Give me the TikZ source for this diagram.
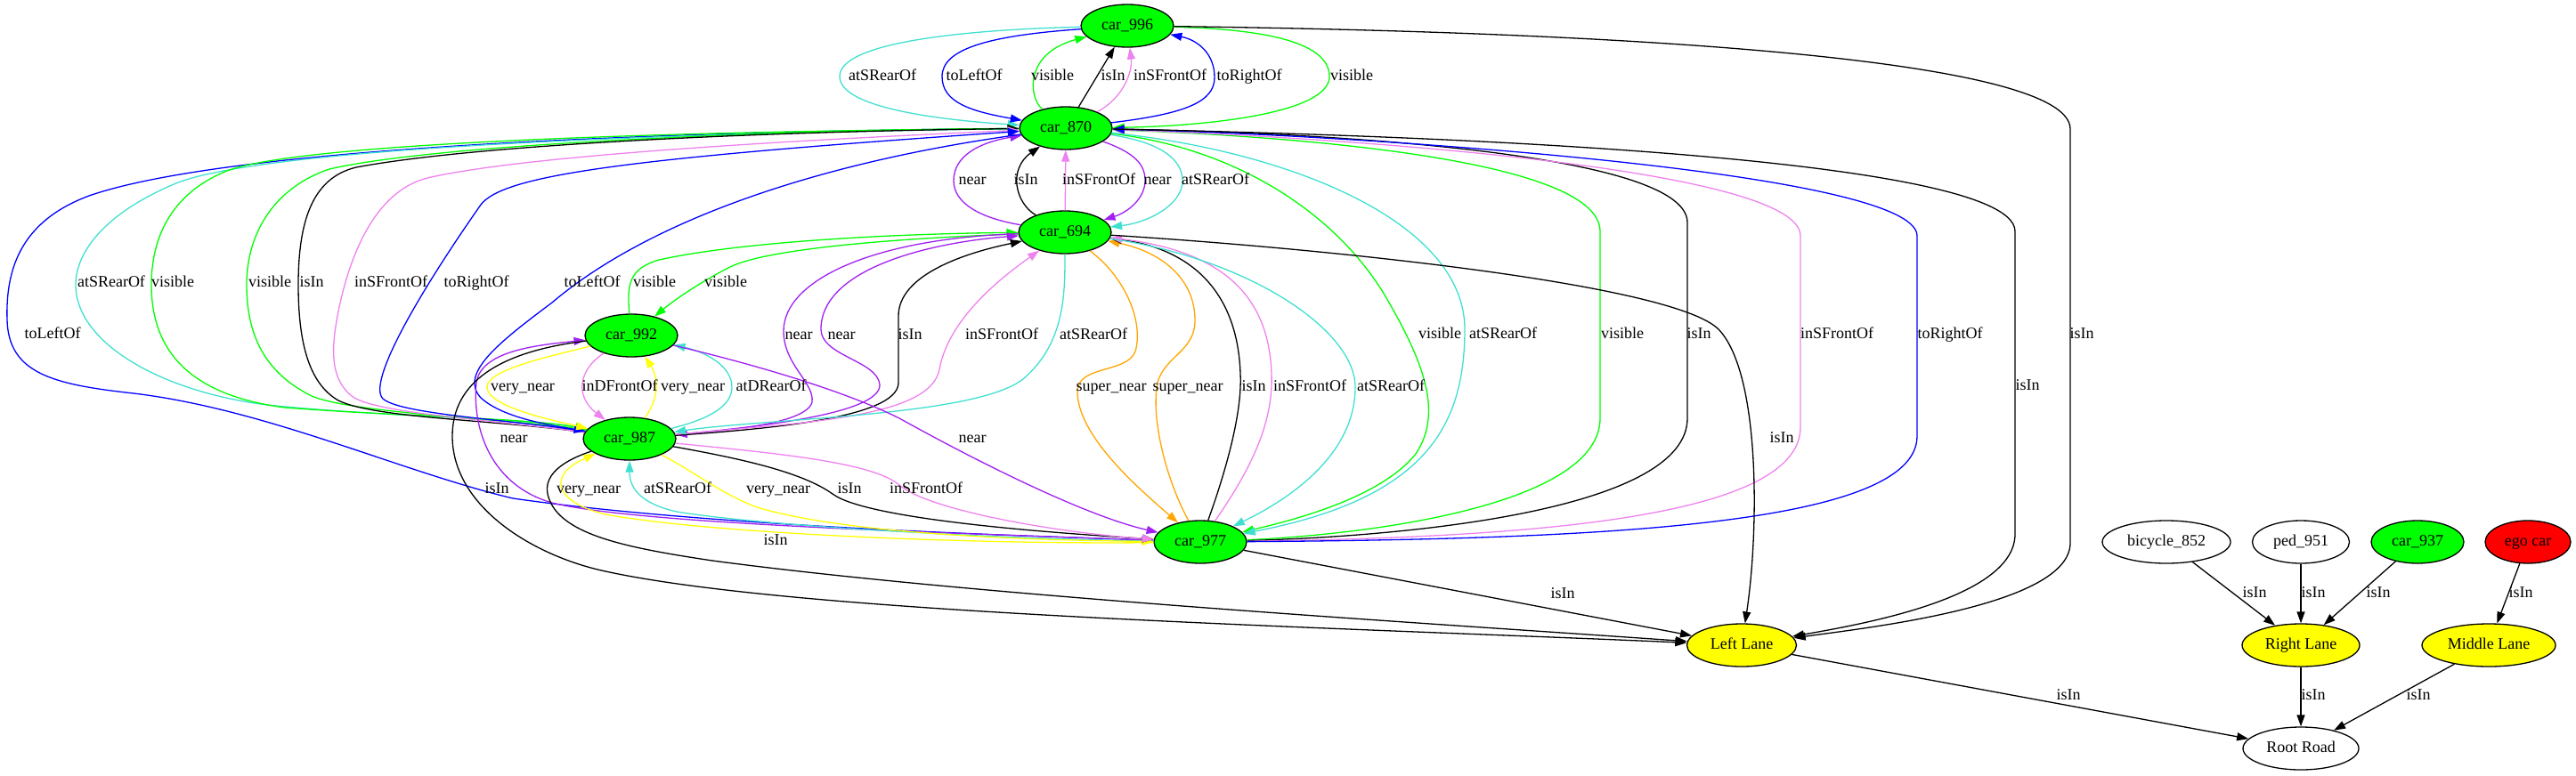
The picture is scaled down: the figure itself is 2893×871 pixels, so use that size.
\documentclass[tikz,border=0pt]{standalone}
\usepackage{fontspec}
\setmainfont{Liberation Serif}
\usetikzlibrary{shapes.geometric,arrows.meta}
\definecolor{gvgreen}{HTML}{00FF00}
\definecolor{gvred}{HTML}{FF0000}
\definecolor{gvyellow}{HTML}{FFFF00}
\definecolor{gvblue}{HTML}{0000FF}
\definecolor{gvpurple}{HTML}{A020F0}
\definecolor{gvviolet}{HTML}{EE82EE}
\definecolor{gvturq}{HTML}{40E0D0}
\definecolor{gvorange}{HTML}{FFA500}
\tikzstyle{obj} = [ellipse, draw=black, line width=1.3pt, inner sep=0pt,
  minimum height=48pt, minimum width=104pt, text height=12pt, text depth=3pt]
\tikzstyle{car} = [obj, fill=gvgreen]
\tikzstyle{lane} = [obj, fill=gvyellow]
\tikzstyle{lbl} = [inner sep=0pt, text height=12pt, text depth=3pt]
\tikzstyle{rel} = [line width=1.3pt, -{Triangle[length=13pt,width=9pt]}]
\tikzstyle{eisin} = [rel, draw=black]
\tikzstyle{evis} = [rel, draw=gvgreen]
\tikzstyle{erear} = [rel, draw=gvturq]
\tikzstyle{eside} = [rel, draw=gvblue]
\tikzstyle{efront} = [rel, draw=gvviolet]
\tikzstyle{enear} = [rel, draw=gvpurple]
\tikzstyle{esnear} = [rel, draw=gvorange]
\tikzstyle{evnear} = [rel, draw=gvyellow]

\begin{document}
\begin{tikzpicture}[x=1pt, y=-1pt, font=\fontsize{18}{20}\selectfont]
  \useasboundingbox (0,0) rectangle (2893,871);

  % Cars
  \node[car] (c996) at (1266,29) {car\_996};
  \node[car] (c870) at (1197,144) {car\_870};
  \node[car] (c694) at (1196,261) {car\_694};
  \node[car] (c992) at (709,377) {car\_992};
  \node[car] (c987) at (707,493) {car\_987};
  \node[car] (c977) at (1348,609) {car\_977};

  % Other actors and lanes
  \node[obj, minimum width=144pt] (b852) at (2433,609) {bicycle\_852};
  \node[obj, minimum width=109pt] (p951) at (2584,609) {ped\_951};
  \node[car] (c937) at (2715,609) {car\_937};
  \node[obj, minimum width=96pt, fill=gvred] (ego) at (2839,609) {ego car};
  \node[lane, minimum width=123pt] (left) at (1956,725) {Left Lane};
  \node[lane, minimum width=132pt] (right) at (2584,725) {Right Lane};
  \node[lane, minimum width=150pt] (middle) at (2795,725) {Middle Lane};
  \node[obj, minimum width=130pt] (road) at (2584,841) {Root Road};

  % car_996 and car_870
  \draw[erear] (c996) .. controls (1100,33) and (943,45) .. (943,86) .. controls (943,122) and (1060,135) .. (c870);
  \draw[eside] (c996) .. controls (1110,40) and (1058,55) .. (1058,86) .. controls (1058,115) and (1090,125) .. (c870);
  \draw[evis] (c870) .. controls (1155,110) and (1150,60) .. (c996);
  \draw[eisin] (c870) -- (c996);
  \draw[efront] (c870) .. controls (1262,110) and (1272,80) .. (c996);
  \draw[eside] (c870) .. controls (1330,128) and (1364,115) .. (1364,87) .. controls (1364,60) and (1345,45) .. (c996);
  \draw[evis] (c996) .. controls (1430,33) and (1493,50) .. (1493,86) .. controls (1493,128) and (1350,142) .. (c870);
  \draw[eisin] (c996) .. controls (1750,35) and (2325,60) .. (2325,145) -- (2325,610) .. controls (2325,680) and (2100,705) .. (left);

  % car_870 and car_694
  \draw[enear] (c694) .. controls (1100,245) and (1071,228) .. (1071,203) .. controls (1071,175) and (1100,160) .. (c870);
  \draw[eisin] (c694) .. controls (1140,228) and (1132,190) .. (c870);
  \draw[efront] (c694) -- (c870);
  \draw[enear] (c870) .. controls (1275,172) and (1286,185) .. (1286,203) .. controls (1286,222) and (1268,238) .. (c694);
  \draw[erear] (c870) .. controls (1305,160) and (1328,180) .. (1328,203) .. controls (1328,230) and (1290,250) .. (c694);

  % car_870 and car_987, car_977 (left loops)
  \draw[eside] (c870) .. controls (700,148) and (250,168) .. (100,220) .. controls (25,248) and (6,300) .. (8,360)
    .. controls (10,420) and (60,432) .. (150,442) .. controls (300,460) and (450,530) .. (576,560)
    .. controls (800,592) and (1150,602) .. (c977);
  \draw[erear] (c870) .. controls (700,150) and (300,168) .. (200,205) .. controls (115,240) and (85,285) .. (85,320)
    .. controls (85,385) and (180,440) .. (300,455) .. controls (450,470) and (600,470) .. (c987);
  \draw[evis] (c870) .. controls (700,148) and (330,163) .. (255,192) .. controls (190,218) and (170,270) .. (170,320)
    .. controls (170,400) and (220,445) .. (320,458) .. controls (450,468) and (600,470) .. (c987);
  \draw[evis] (c987) .. controls (600,472) and (400,466) .. (350,445) .. controls (300,420) and (277,380) .. (277,320)
    .. controls (277,260) and (310,210) .. (370,190) .. controls (500,160) and (900,146) .. (c870);
  \draw[eisin] (c987) .. controls (560,472) and (420,470) .. (380,450) .. controls (345,430) and (335,380) .. (335,320)
    .. controls (335,250) and (350,200) .. (400,188) .. controls (550,160) and (900,147) .. (c870);
  \draw[efront] (c987) .. controls (560,472) and (420,465) .. (395,445) .. controls (370,425) and (372,390) .. (380,350)
    .. controls (392,290) and (420,215) .. (480,200) .. controls (600,172) and (950,155) .. (c870);
  \draw[eside] (c987) .. controls (580,472) and (450,466) .. (430,448) .. controls (412,430) and (470,330) .. (540,230)
    .. controls (565,197) and (700,178) .. (c870);
  \draw[eside] (c870) .. controls (900,185) and (720,255) .. (620,340) .. controls (560,385) and (515,420) .. (540,447)
    .. controls (565,470) and (620,478) .. (c987);

  % car_694 and car_992
  \draw[evis] (c992) .. controls (704,320) and (706,302) .. (740,292) .. controls (850,268) and (1050,262) .. (c694);
  \draw[evis] (c694) .. controls (1000,268) and (860,280) .. (820,300) .. controls (790,315) and (760,335) .. (c992);

  % car_694 and car_987
  \draw[enear] (c694) .. controls (980,268) and (880,315) .. (880,372) .. controls (880,410) and (915,430) .. (912,452)
    .. controls (905,478) and (800,485) .. (c987);
  \draw[enear] (c987) .. controls (850,480) and (990,465) .. (988,432) .. controls (985,405) and (922,400) .. (922,370)
    .. controls (922,300) and (1050,272) .. (c694);
  \draw[eisin] (c987) .. controls (860,482) and (1009,470) .. (1009,430) -- (1009,355) .. controls (1009,310) and (1080,285) .. (c694);
  \draw[efront] (c987) .. controls (900,475) and (1045,470) .. (1055,415) .. controls (1065,360) and (1120,315) .. (c694);
  \draw[erear] (c694) .. controls (1196,330) and (1196,385) .. (1150,425) .. controls (1100,468) and (860,470) .. (c987);

  % car_992 and car_987
  \draw[evnear] (c992) .. controls (620,400) and (547,415) .. (547,435) .. controls (547,457) and (620,472) .. (c987);
  \draw[efront] (c992) .. controls (650,415) and (645,445) .. (c987);
  \draw[evnear] (c987) .. controls (740,448) and (740,425) .. (c992);
  \draw[erear] (c987) .. controls (800,470) and (822,455) .. (822,435) .. controls (822,410) and (790,395) .. (c992);

  % car_992 and car_977
  \draw[enear] (c992) .. controls (850,410) and (950,440) .. (1010,470) .. controls (1100,520) and (1220,580) .. (c977);
  \draw[enear] (c977) .. controls (1100,600) and (720,590) .. (620,565) .. controls (550,545) and (530,480) .. (535,430)
    .. controls (540,395) and (600,388) .. (c992);

  % car_987 and car_977
  \draw[evnear] (c977) .. controls (1100,612) and (800,600) .. (680,578) .. controls (625,565) and (612,535) .. (c987);
  \draw[erear] (c977) .. controls (1100,605) and (850,590) .. (760,575) .. controls (715,565) and (707,545) .. (c987);
  \draw[evnear] (c987) .. controls (780,530) and (810,555) .. (850,570) .. controls (950,600) and (1150,607) .. (c977);
  \draw[eisin] (c987) .. controls (830,515) and (900,530) .. (935,555) .. controls (975,585) and (1200,600) .. (c977);
  \draw[efront] (c987) .. controls (880,510) and (980,520) .. (1010,545) .. controls (1045,575) and (1200,600) .. (c977);

  % car_694 and car_977
  \draw[esnear] (c694) .. controls (1262,310) and (1285,360) .. (1275,395) .. controls (1265,420) and (1210,410) .. (1210,440)
    .. controls (1210,490) and (1280,550) .. (c977);
  \draw[esnear] (c977) .. controls (1310,540) and (1292,470) .. (1300,430) .. controls (1308,400) and (1342,395) .. (1342,360)
    .. controls (1342,310) and (1300,282) .. (c694);
  \draw[eisin] (c977) .. controls (1380,520) and (1395,460) .. (1393,420) .. controls (1390,330) and (1340,280) .. (c694);
  \draw[efront] (c977) .. controls (1410,520) and (1430,470) .. (1428,420) .. controls (1425,330) and (1370,282) .. (c694);
  \draw[erear] (c694) .. controls (1400,290) and (1522,370) .. (1522,435) .. controls (1522,510) and (1450,560) .. (c977);

  % car_870 and car_977 (right side)
  \draw[evis] (c870) .. controls (1400,168) and (1510,250) .. (1560,340) .. controls (1600,410) and (1620,465) .. (1590,510)
    .. controls (1550,560) and (1450,585) .. (c977);
  \draw[erear] (c870) .. controls (1450,170) and (1645,250) .. (1645,370) .. controls (1645,480) and (1600,560) .. (c977);
  \draw[evis] (c977) .. controls (1550,600) and (1797,565) .. (1797,470) -- (1797,260) .. controls (1797,175) and (1420,152) .. (c870);
  \draw[eisin] (c977) .. controls (1600,602) and (1895,570) .. (1895,470) -- (1895,250) .. controls (1895,165) and (1420,148) .. (c870);
  \draw[efront] (c977) .. controls (1700,604) and (2022,585) .. (2022,480) -- (2022,265) .. controls (2022,185) and (1450,152) .. (c870);
  \draw[eside] (c977) .. controls (1800,606) and (2153,590) .. (2153,490) -- (2153,265) .. controls (2153,190) and (1480,150) .. (c870);

  % Lanes
  \draw[eisin] (c870) .. controls (1500,150) and (2263,170) .. (2263,260) -- (2263,600) .. controls (2263,670) and (2100,700) .. (left);
  \draw[eisin] (c694) .. controls (1500,280) and (1880,320) .. (1930,370) .. controls (1978,420) and (1975,600) .. (left);
  \draw[eisin] (c992) .. controls (560,395) and (508,430) .. (508,490) .. controls (508,570) and (600,625) .. (680,642)
    .. controls (900,690) and (1500,705) .. (left);
  \draw[eisin] (c987) .. controls (640,515) and (610,530) .. (615,555) .. controls (625,600) and (700,615) .. (800,630)
    .. controls (1100,670) and (1600,700) .. (left);
  \draw[eisin] (c977) -- (left);
  \draw[eisin] (left) -- (road);
  \draw[eisin] (b852) -- (right);
  \draw[eisin] (p951) -- (right);
  \draw[eisin] (c937) -- (right);
  \draw[eisin] (ego) -- (middle);
  \draw[eisin] (right) -- (road);
  \draw[eisin] (middle) -- (road);

  % Labels
  \node[lbl] (t01) at (991,86) {atSRearOf};
  \node[lbl] (t02) at (1094,86) {toLeftOf};
  \node[lbl] (t03) at (1182,86) {visible};
  \node[lbl] (t04) at (1250,86) {isIn};
  \node[lbl] (t05) at (1314,86) {inSFrontOf};
  \node[lbl] (t06) at (1403,86) {toRightOf};
  \node[lbl] (t07) at (1518,86) {visible};
  \node[lbl] (t08) at (1092,203) {near};
  \node[lbl] (t09) at (1152,203) {isIn};
  \node[lbl] (t10) at (1234,203) {inSFrontOf};
  \node[lbl] (t11) at (1300,203) {near};
  \node[lbl] (t12) at (1365,203) {atSRearOf};
  \node[lbl] (t13) at (125,318) {atSRearOf};
  \node[lbl] (t14) at (194,318) {visible};
  \node[lbl] (t15) at (303,318) {visible};
  \node[lbl] (t16) at (350,318) {isIn};
  \node[lbl] (t17) at (439,318) {inSFrontOf};
  \node[lbl] (t18) at (535,318) {toRightOf};
  \node[lbl] (t19) at (665,318) {toLeftOf};
  \node[lbl] (t20) at (735,318) {visible};
  \node[lbl] (t21) at (815,318) {visible};
  \node[lbl] (t22) at (59,376) {toLeftOf};
  \node[lbl] (t23) at (1617,376) {visible};
  \node[lbl] (t24) at (1688,376) {atSRearOf};
  \node[lbl] (t25) at (1822,376) {visible};
  \node[lbl] (t26) at (1908,376) {isIn};
  \node[lbl] (t27) at (2063,376) {inSFrontOf};
  \node[lbl] (t28) at (2190,376) {toRightOf};
  \node[lbl] (t29) at (2338,376) {isIn};
  \node[lbl] (t30) at (897,377) {near};
  \node[lbl] (t31) at (945,377) {near};
  \node[lbl] (t32) at (1022,377) {isIn};
  \node[lbl] (t33) at (1125,377) {inSFrontOf};
  \node[lbl] (t34) at (1228,377) {atSRearOf};
  \node[lbl] (t35) at (2277,434) {isIn};
  \node[lbl] (t36) at (587,435) {very\_near};
  \node[lbl] (t37) at (696,435) {inDFrontOf};
  \node[lbl] (t38) at (778,435) {very\_near};
  \node[lbl] (t39) at (866,435) {atDRearOf};
  \node[lbl] (t40) at (1248,435) {super\_near};
  \node[lbl] (t41) at (1334,435) {super\_near};
  \node[lbl] (t42) at (1408,435) {isIn};
  \node[lbl] (t43) at (1471,435) {inSFrontOf};
  \node[lbl] (t44) at (1562,435) {atSRearOf};
  \node[lbl] (t45) at (577,493) {near};
  \node[lbl] (t46) at (1092,493) {near};
  \node[lbl] (t47) at (2001,493) {isIn};
  \node[lbl] (t48) at (558,550) {isIn};
  \node[lbl] (t49) at (661,550) {very\_near};
  \node[lbl] (t50) at (761,550) {atSRearOf};
  \node[lbl] (t51) at (874,550) {very\_near};
  \node[lbl] (t52) at (954,550) {isIn};
  \node[lbl] (t53) at (1040,550) {inSFrontOf};
  \node[lbl] (t54) at (871,608) {isIn};
  \node[lbl] (t55) at (1755,668) {isIn};
  \node[lbl] (t56) at (2532,667) {isIn};
  \node[lbl] (t57) at (2598,667) {isIn};
  \node[lbl] (t58) at (2671,667) {isIn};
  \node[lbl] (t59) at (2831,667) {isIn};
  \node[lbl] (t60) at (2323,782) {isIn};
  \node[lbl] (t61) at (2598,782) {isIn};
  \node[lbl] (t62) at (2716,782) {isIn};
\end{tikzpicture}
\end{document}
